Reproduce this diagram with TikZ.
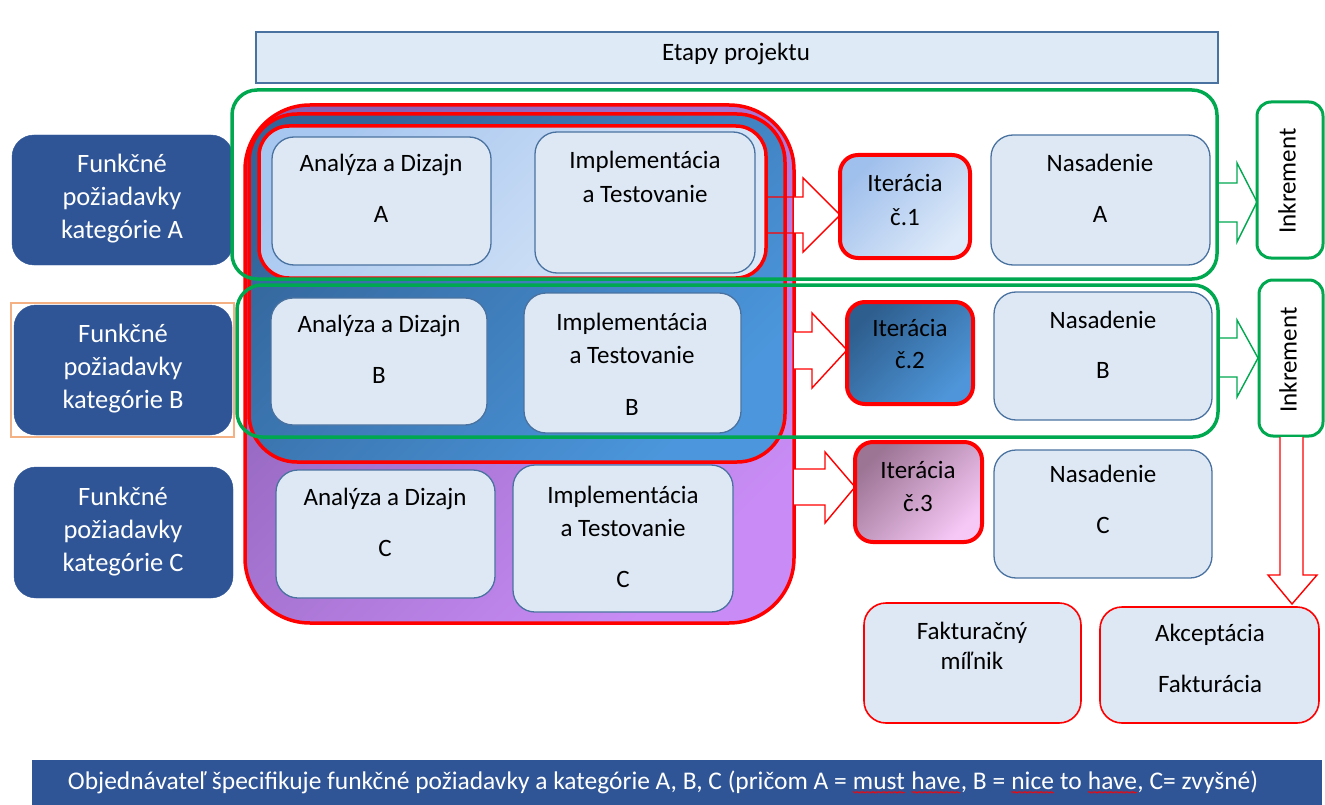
\documentclass[tikz,border=0pt]{standalone}
\usepackage{fontspec}
\setmainfont{Carlito}
\usetikzlibrary{decorations.pathmorphing}
\definecolor{dkblue}{HTML}{2F5597}
\definecolor{lbfill}{HTML}{DDE8F4}
\definecolor{lbdraw}{HTML}{4A72A0}
\definecolor{grn}{HTML}{00A850}
\definecolor{rd}{HTML}{FF0000}
\definecolor{orng}{HTML}{F4B183}
\definecolor{purA}{HTML}{8A60B4}
\definecolor{purB}{HTML}{C98CF6}
\definecolor{bluA}{HTML}{33659A}
\definecolor{bluB}{HTML}{4B96DC}
\definecolor{ltA}{HTML}{A8C7F0}
\definecolor{ltB}{HTML}{DAE7F7}
\definecolor{itoA}{HTML}{9FBFEC}
\definecolor{itoB}{HTML}{DEEAF9}
\definecolor{ittA}{HTML}{2E5E8E}
\definecolor{ittB}{HTML}{4E96D9}
\definecolor{ithA}{HTML}{9C7494}
\definecolor{ithB}{HTML}{F6C8F6}
\definecolor{topfill}{HTML}{DEEAF6}
\newcommand\bx[6]{\node[#6, minimum width={#4-#2}, minimum height={#5-#3}] (#1) at ({(#2+#4)/2},{(#3+#5)/2}) {};}
\newcommand\tl[5][]{\node[tx,#1] (#2) at (#3,#4) {#5};}
\newcommand\wv[1]{\tikz[baseline=(wvn.base)]{\node[inner sep=0pt,outer sep=0pt] (wvn) {#1};\draw[rd,line width=0.7pt,decorate,decoration={snake,amplitude=0.8pt,segment length=3pt}] ([yshift=-3pt]wvn.base west) -- ([yshift=-3pt]wvn.base east);}}
\tikzset{
  tx/.style={font=\fontsize{25}{29}\selectfont, inner sep=0pt, text height=16pt, text depth=5pt, anchor=center},
  wtx/.style={tx, text=white, font=\fontsize{26.5}{30}\selectfont},
  inbox/.style={draw=lbdraw, line width=1.3pt, fill=lbfill, rounded corners=22pt, inner sep=0pt, outer sep=0pt},
  catbox/.style={draw=dkblue, fill=dkblue, rounded corners=22pt, inner sep=0pt, outer sep=0pt},
  region/.style={draw=rd, line width=3.5pt, inner sep=0pt, outer sep=0pt},
  iterbox/.style={draw=rd, line width=4pt, rounded corners=18pt, inner sep=0pt, outer sep=0pt},
  grnbox/.style={draw=grn, line width=3.5pt, rounded corners=25pt, inner sep=0pt, outer sep=0pt},
  incbox/.style={draw=grn, line width=3pt, fill=white, rounded corners=14pt, inner sep=0pt, outer sep=0pt},
  milbox/.style={draw=rd, line width=1.6pt, fill=lbfill, rounded corners=22pt, inner sep=0pt, outer sep=0pt},
  redarrow/.style={draw=rd, line width=1.4pt, line join=miter},
  grnarrow/.style={draw=grn, line width=1.4pt, line join=miter},
}
\begin{document}
\begin{tikzpicture}[x=1pt,y=-1pt]
\useasboundingbox (0,0) rectangle (1325,805);
% top bar
\bx{etapy}{256}{32}{1218}{83}{draw=lbdraw, line width=1.3pt, fill=topfill, inner sep=0pt}
\tl{etapyt}{736}{55}{Etapy projektu}
% category boxes
\bx{orng}{11}{303}{234}{437}{draw=orng, line width=1.3pt, inner sep=0pt}
\bx{catA}{12}{135}{233}{265}{catbox}
\bx{catB}{14}{305}{232}{435}{catbox}
\bx{catC}{14}{467}{233}{598}{catbox}
\tl[wtx]{catA1}{122}{167}{Funkčné}
\tl[wtx]{catA2}{122}{200}{požiadavky}
\tl[wtx]{catA3}{122}{233}{kategórie A}
\tl[wtx]{catB1}{123}{337}{Funkčné}
\tl[wtx]{catB2}{123}{370}{požiadavky}
\tl[wtx]{catB3}{123}{403}{kategórie B}
\tl[wtx]{catC1}{123}{500}{Funkčné}
\tl[wtx]{catC2}{123}{533}{požiadavky}
\tl[wtx]{catC3}{123}{566}{kategórie C}
% regions
\bx{purple}{245}{105}{794}{623}{region, rounded corners=65pt, top color=purA, bottom color=purB, shading angle=45}
\bx{blue}{249}{114}{785}{462}{region, rounded corners=48pt, top color=bluA, bottom color=bluB, shading angle=45}
\bx{lightA}{259}{126}{766}{278}{region, rounded corners=30pt, top color=ltA, bottom color=ltB, shading angle=45}
% inner boxes
\bx{adA}{272}{137}{491}{265}{inbox}
\bx{itA}{535}{132}{755}{273}{inbox}
\bx{adB}{271}{298}{487}{425}{inbox}
\bx{itB}{524}{293}{741}{433}{inbox}
\bx{adC}{276}{470}{495}{598}{inbox}
\bx{itC}{513}{465}{733}{612}{inbox}
\tl{adA1}{381}{166}{Analýza a Dizajn}
\tl{adA2}{381}{217}{A}
\tl{itA1}{645}{163}{Implementácia}
\tl{itA2}{645}{197}{a Testovanie}
\tl{adB1}{379}{327}{Analýza a Dizajn}
\tl{adB2}{379}{378}{B}
\tl{itB1}{632}{325}{Implementácia}
\tl{itB2}{632}{358}{a Testovanie}
\tl{itB3}{632}{410}{B}
\tl{adC1}{385}{500}{Analýza a Dizajn}
\tl{adC2}{385}{551}{C}
\tl{itC1}{623}{498}{Implementácia}
\tl{itC2}{623}{531}{a Testovanie}
\tl{itC3}{623}{582}{C}
% red block arrows
\fill[white] (794,197) -- (803,197) -- (803,178) -- (840,215) -- (803,252) -- (803,233) -- (794,233) -- cycle;
\draw[redarrow] (766,197) -- (803,197) -- (803,178) -- (840,215) -- (803,252) -- (803,233) -- (766,233);
\fill[white] (794,332) -- (812,332) -- (812,313) -- (847,350) -- (812,388) -- (812,369) -- (794,369) -- cycle;
\draw[redarrow] (793,332) -- (812,332) -- (812,313) -- (847,350) -- (812,388) -- (812,369) -- (793,369);
\fill[white] (794,469) -- (825,469) -- (825,452) -- (855,487) -- (825,523) -- (825,505) -- (794,505) -- cycle;
\draw[redarrow] (793,469) -- (825,469) -- (825,452) -- (855,487) -- (825,523) -- (825,505) -- (793,505);
% iterations
\bx{iter1}{840}{155}{970}{258}{iterbox, top color=itoA, bottom color=itoB, shading angle=45}
\bx{iter2}{847}{302}{973}{404}{iterbox, top color=ittA, bottom color=ittB, shading angle=45}
\bx{iter3}{855}{442}{982}{542}{iterbox, top color=ithA, bottom color=ithB, shading angle=45}
\tl{iter1a}{905}{186}{Iterácia}
\tl{iter1b}{905}{220}{č.1}
\tl{iter2a}{910}{331}{Iterácia}
\tl{iter2b}{910}{363}{č.2}
\tl{iter3a}{918}{473}{Iterácia}
\tl{iter3b}{918}{506}{č.3}
% deployment
\bx{nasA}{991}{135}{1210}{265}{inbox}
\bx{nasB}{994}{292}{1212}{420}{inbox}
\bx{nasC}{994}{450}{1212}{578}{inbox}
\tl{nasA1}{1100}{166}{Nasadenie}
\tl{nasA2}{1100}{217}{A}
\tl{nasB1}{1103}{323}{Nasadenie}
\tl{nasB2}{1103}{373}{B}
\tl{nasC1}{1103}{477}{Nasadenie}
\tl{nasC2}{1103}{528}{C}
% green frames
\bx{grnA}{232}{90}{1217}{279}{grnbox}
\bx{grnB}{237}{285}{1218}{437}{grnbox}
% green block arrows
\filldraw[grnarrow, fill=white] (1219,183) -- (1237,183) -- (1237,163) -- (1257,202) -- (1237,242) -- (1237,222) -- (1219,222);
\filldraw[grnarrow, fill=white] (1220,338) -- (1237,338) -- (1237,320) -- (1258,358) -- (1237,397) -- (1237,377) -- (1220,377);
% increments
\bx{inc1}{1257}{102}{1323}{258}{incbox}
\bx{inc2}{1259}{280}{1323}{436}{incbox}
\tl[rotate=90]{inc1t}{1290}{181}{Inkrement}
\tl[rotate=90]{inc2t}{1291}{360}{Inkrement}
% red down arrow
\filldraw[redarrow, fill=white] (1280,437) -- (1280,575) -- (1268,575) -- (1292,604) -- (1317,575) -- (1303,575) -- (1303,437);
% milestone boxes
\bx{fakt}{864}{603}{1081}{723}{milbox}
\bx{akc}{1100}{607}{1319}{723}{milbox}
\tl{fakt1}{972}{634}{Fakturačný}
\tl{fakt2}{972}{664}{míľnik}
\tl{akc1}{1210}{636}{Akceptácia}
\tl{akc2}{1210}{687}{Fakturácia}
% bottom bar
\bx{bottom}{32}{760}{1322}{805}{fill=dkblue, inner sep=0pt}
\node[font=\fontsize{24}{28}\selectfont, text=white, inner sep=0pt, anchor=center] (bottomt) at (663,782) {\resizebox{1190pt}{!}{Objednávateľ špecifikuje funkčné požiadavky a kategórie A, B, C (pričom A = \wv{must} \wv{have}, B = \wv{nice} to \wv{have}, C= zvyšné)}};
\end{tikzpicture}
\end{document}
